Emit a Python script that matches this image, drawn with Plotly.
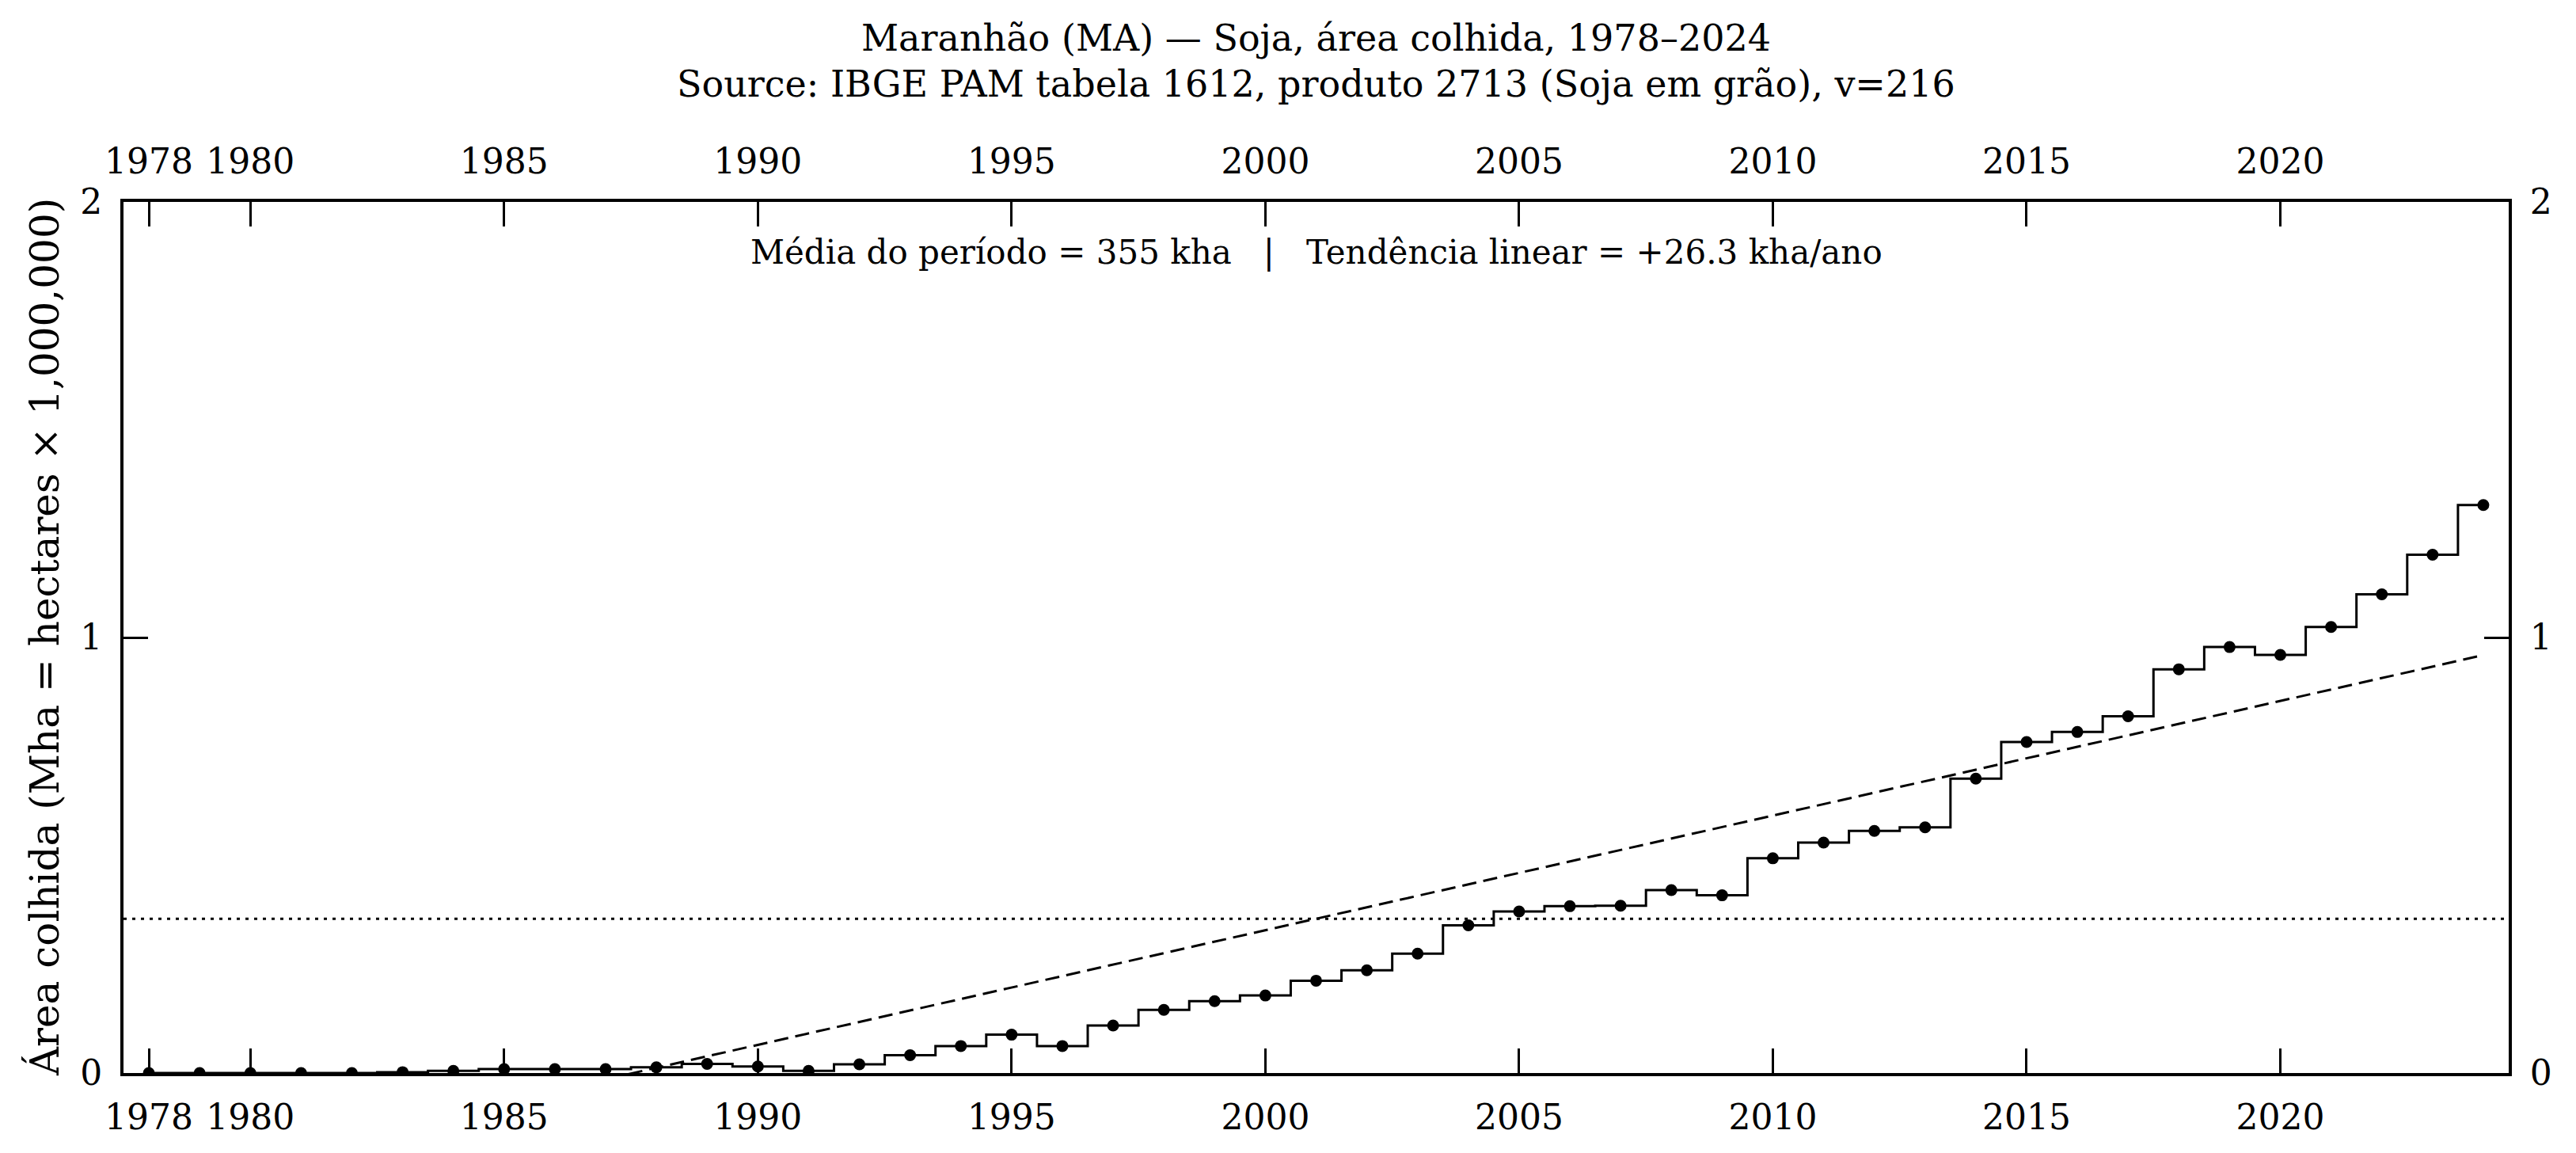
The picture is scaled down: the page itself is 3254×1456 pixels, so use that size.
import numpy as np
import plotly.graph_objects as go

# ---- data ----
years = list(range(1978, 2025))
area_mha = [
    0.000, 0.000, 0.000, 0.000, 0.000,          # 1978-1982
    0.002, 0.005, 0.009, 0.009, 0.009,          # 1983-1987
    0.013, 0.021, 0.015, 0.005, 0.020,          # 1988-1992
    0.041, 0.062, 0.088, 0.062, 0.109,          # 1993-1997
    0.145, 0.165, 0.178, 0.212, 0.236,          # 1998-2002
    0.274, 0.339, 0.371, 0.383, 0.384,          # 2003-2007
    0.420, 0.408, 0.493, 0.529, 0.556,          # 2008-2012
    0.564, 0.676, 0.760, 0.783, 0.819,          # 2013-2017
    0.927, 0.978, 0.960, 1.024, 1.099,          # 2018-2022
    1.190, 1.304,                                # 2023-2024
]
x_tickvals = [1978, 1980, 1985, 1990, 1995, 2000, 2005, 2010, 2015, 2020]
y_tickvals = [0, 1, 2]

title_line1 = "Maranhão (MA) — Soja, área colhida, 1978–2024"
title_line2 = "Source: IBGE PAM tabela 1612, produto 2713 (Soja em grão), v=216"
stats_text = "Média do período = 355 kha   |   Tendência linear = +26.3 kha/ano"
y_title = "Área colhida (Mha = hectares × 1,000,000)"

# derived lines
mean_val = float(np.mean(area_mha))
slope, intercept = np.polyfit(years, area_mha, 1)
trend = [slope * y + intercept for y in years]

FONT = "DejaVu Serif"
W, H = 3254, 1456
ML, MR, MT, MB = 156, 85, 255, 101
PH = H - MT - MB
PW = W - ML - MR

fig = go.Figure()

# trend (dashed)
fig.add_trace(go.Scatter(
    x=years, y=trend, mode="lines",
    line=dict(color="black", width=3, dash="18px,9px"),
    hoverinfo="skip", showlegend=False,
))
# step series with markers
fig.add_trace(go.Scatter(
    x=years, y=area_mha, mode="lines+markers",
    line=dict(shape="hvh", color="black", width=3),
    marker=dict(size=15, color="black"),
    showlegend=False,
))
# invisible trace to activate the mirrored (top/right) labelled axes
fig.add_trace(go.Scatter(
    x=years, y=area_mha, xaxis="x2", yaxis="y2", mode="markers",
    marker=dict(opacity=0), hoverinfo="skip", showlegend=False,
))

# mean line (dotted)
fig.add_shape(type="line", xref="paper", x0=0, x1=1, yref="y", y0=mean_val, y1=mean_val,
              line=dict(color="black", width=3, dash="4px,7px"), layer="above")

axis_common = dict(
    showline=True, linecolor="black", linewidth=4,
    ticks="inside", ticklen=31, tickwidth=3, tickcolor="black",
    showgrid=False, zeroline=False,
    tickfont=dict(family=FONT, size=44, color="black"),
)

fig.update_layout(
    width=W, height=H,
    margin=dict(l=ML, r=MR, t=MT, b=MB, autoexpand=False),
    plot_bgcolor="white", paper_bgcolor="white",
    showlegend=False,
    font=dict(family=FONT, color="black"),
    xaxis=dict(range=[1977.5, 2024.5], tickvals=x_tickvals, side="bottom",
               ticklabelstandoff=14, **axis_common),
    xaxis2=dict(range=[1977.5, 2024.5], tickvals=x_tickvals, side="top",
                overlaying="x", anchor="y", ticklabelstandoff=14, **axis_common),
    yaxis=dict(range=[0, 2], tickvals=y_tickvals, side="left",
               ticklabelstandoff=14, **axis_common),
    yaxis2=dict(range=[0, 2], tickvals=y_tickvals, side="right",
                overlaying="y", anchor="x", ticklabelstandoff=14, **axis_common),
)

def py(px_from_top):
    return (H - MB - px_from_top) / PH

fig.add_annotation(text=title_line1, xref="paper", yref="paper", x=0.5, y=py(48),
                   xanchor="center", yanchor="middle", showarrow=False,
                   font=dict(family=FONT, size=46, color="black"))
fig.add_annotation(text=title_line2, xref="paper", yref="paper", x=0.5, y=py(106),
                   xanchor="center", yanchor="middle", showarrow=False,
                   font=dict(family=FONT, size=46, color="black"))
fig.add_annotation(text=stats_text.replace(" ", "\u00a0"), xref="paper", yref="paper",
                   x=0.5, y=py(318), xanchor="center", yanchor="middle", showarrow=False,
                   font=dict(family=FONT, size=42, color="black"))
fig.add_annotation(text=y_title, xref="paper", yref="paper",
                   x=(56 - ML) / PW, y=0.5, xanchor="center", yanchor="middle",
                   textangle=-90, showarrow=False,
                   font=dict(family=FONT, size=50, color="black"))

fig.write_html("out.html")
